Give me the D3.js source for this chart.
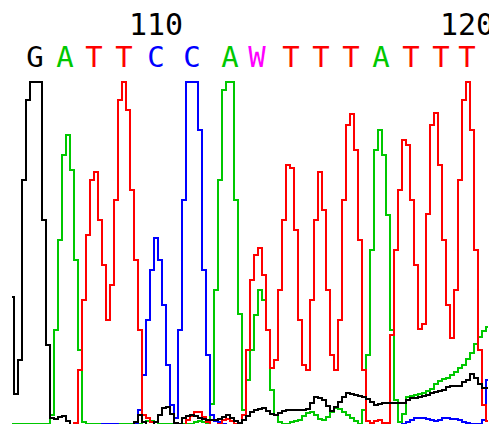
<!DOCTYPE html>
<html>
<head>
<meta charset="utf-8">
<script src="https://cdn.jsdelivr.net/npm/d3@7"></script>
<style>
  body { margin: 0; background: #fff; }
  svg { display: block; }
</style>
</head>
<body>
<script>
// trace samples, one value every sample (signal height, 342 = saturated)
const traceG = [127,30,64,244,324,342,342,342,204,79,
  6,5,7,8,3,-2,-2,-2,-2,-2,
  -2,-2,-2,-2,-2,-2,-2,-2,-2,-2,
  -2,2,9,2,-1,-1,2,9,16,17,
  10,1,0,6,8,9,8,6,5,4,
  4,4,5,7,9,6,3,1,4,8,
  12,14,15,16,13,10,9,11,13,14,
  14,14,14,14,15,21,27,26,24,18,
  13,17,22,27,31,30,29,28,27,25,
  22,19,20,21,21,21,21,21,21,24,
  26,26,27,28,29,31,32,33,34,37,
  38,38,38,42,44,50,46,40,36,36];

const traceA = [0,0,0,0,0,0,0,0,0,0,
  9,94,184,269,289,254,164,74,2,0,
  0,0,0,0,0,0,0,0,0,0,
  0,0,0,2,3,3,2,0,0,0,
  0,0,0,0,0,0,2,3,2,0,
  20,134,244,334,342,342,224,110,14,44,
  74,109,134,124,94,34,9,2,0,0,
  2,3,4,8,11,12,9,5,4,7,
  12,16,15,12,9,6,3,0,14,69,
  174,274,294,269,209,94,24,2,10,27,
  28,29,30,31,33,35,40,43,45,46,
  49,52,56,59,65,71,80,87,93,97];

const traceT = [-2,-2,-2,-2,-2,-2,-2,-2,-2,-2,
  -2,-2,-2,-2,-2,-2,1,54,124,189,
  244,252,204,159,104,139,224,324,342,314,
  234,164,94,9,6,2,-2,-2,-2,-2,
  -2,-2,-2,-2,4,8,12,12,7,2,
  -2,-2,0,4,5,3,0,-2,9,74,
  144,169,176,149,94,56,64,134,204,259,
  256,194,104,59,54,124,204,252,214,134,
  69,54,104,224,299,310,274,184,54,3,
  1,3,4,1,1,89,174,234,284,279,
  224,159,95,100,210,299,311,259,184,119,
  86,134,244,324,342,294,174,74,19,3];

const traceC = [-2,-2,-2,-2,-2,-2,-2,-2,-2,-2,
  -2,-2,-2,-2,-2,-2,-2,-2,-2,-2,
  -2,-2,-2,0,0,0,0,-2,-2,-2,
  -2,0,14,49,104,154,186,164,119,59,
  19,6,94,224,342,342,342,294,154,69,
  9,3,2,0,-2,-2,-2,-2,-2,-2,
  -2,-2,-2,-2,-2,-2,-2,-2,-2,-2,
  -2,-2,-2,-2,-2,-2,-2,-2,-2,-2,
  -2,-2,-2,-2,-2,-2,-2,-2,-2,-2,
  -2,-2,-2,-2,-2,-2,-2,-2,0,2,
  4,6,6,6,5,4,3,4,6,6,
  5,5,4,2,1,0,0,0,4,44];

// base calls and their peak locations (in sample units)
const baseCalls = ["G","A","T","T","C","C","A","W","T","T","T","A","T","T","T"];
const basePeaks = [5.75,13.25,20.5,28,36,45,54.5,61.25,69.75,77.25,84.75,92.25,99.75,107.25,113.75];
const firstBase = 106;
const tickBases = [110, 120];

const width = 489, height = 424;
const baseColor = {G: "#000000", A: "#00c800", T: "#ff0000", C: "#0000ff", W: "#ff00ff"};

const svg = d3.select("body")
  .append("svg")
  .attr("width", width)
  .attr("height", height);

const x = d3.scaleLinear()
  .domain([0, traceG.length - 1])
  .range([12, 488]);

const y = d3.scaleLinear()
  .domain([0, 342])
  .range([424, 82]);

const line = d3.line()
  .x((d, i) => x(i))
  .y(d => y(d))
  .curve(d3.curveStep);

// draw order: A, C, T, G
const traces = [
  {data: traceA, color: baseColor.A},
  {data: traceC, color: baseColor.C},
  {data: traceT, color: baseColor.T},
  {data: traceG, color: baseColor.G}
];

svg.selectAll("path.trace")
  .data(traces)
  .enter()
  .append("path")
    .attr("class", "trace")
    .attr("d", d => line(d.data))
    .style("fill", "none")
    .style("stroke", d => d.color)
    .style("stroke-width", 2);

// base letters
svg.selectAll("text.base")
  .data(baseCalls)
  .enter()
  .append("text")
    .attr("class", "base")
    .attr("x", (d, i) => x(basePeaks[i]))
    .attr("y", 67)
    .attr("text-anchor", "middle")
    .style("font-family", "'DejaVu Sans Mono', monospace")
    .style("font-size", "29px")
    .style("fill", d => baseColor[d])
    .text(d => d);

// base numbers
svg.selectAll("text.tick")
  .data(tickBases)
  .enter()
  .append("text")
    .attr("class", "tick")
    .attr("x", d => x(basePeaks[d - firstBase]))
    .attr("y", 35)
    .attr("text-anchor", "middle")
    .style("font-family", "'DejaVu Sans Mono', monospace")
    .style("font-size", "30px")
    .style("fill", "#000")
    .text(d => d);
</script>
</body>
</html>
